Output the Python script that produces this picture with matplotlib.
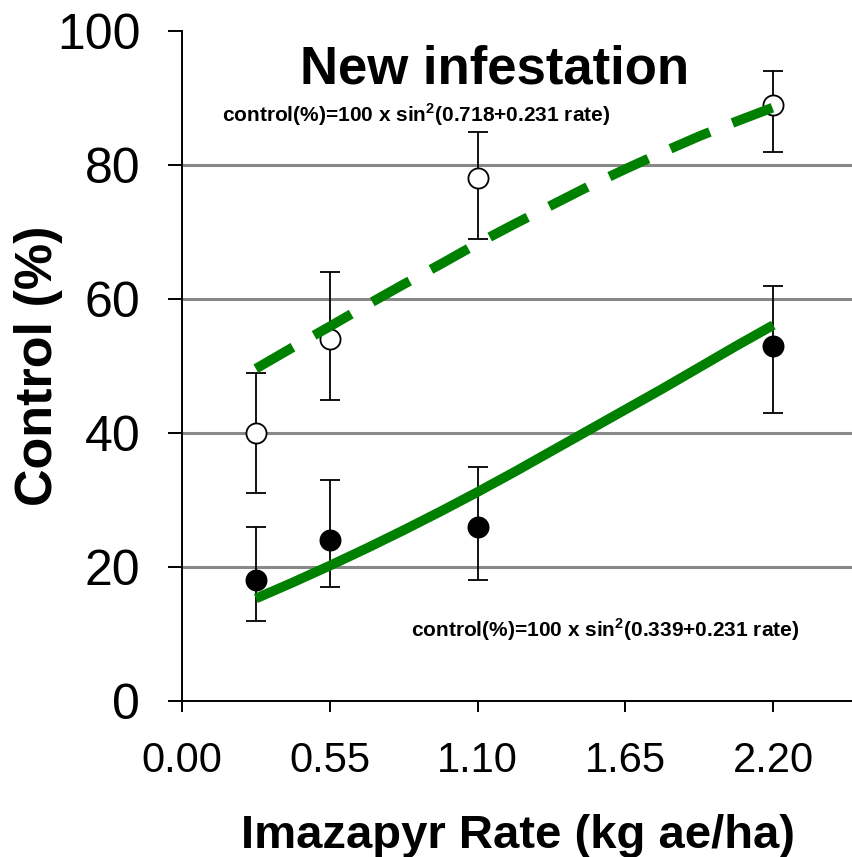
import matplotlib
matplotlib.use("Agg")
import matplotlib.pyplot as plt

plt.rcParams['font.family'] = ['Liberation Sans', 'DejaVu Sans']
plt.rcParams['mathtext.fontset'] = 'custom'
plt.rcParams['mathtext.rm'] = 'Liberation Sans:bold'
plt.rcParams['mathtext.bf'] = 'Liberation Sans:bold'

# observed means and error bars
rates = [0.275, 0.55, 1.10, 2.20]
new_ctrl = [40, 54, 78, 89]
new_lo = [9, 9, 9, 7]
new_hi = [9, 10, 7, 5]
old_ctrl = [18, 24, 26, 53]
old_lo = [6, 7, 8, 10]
old_hi = [8, 9, 9, 9]

# fitted curves
fit_rates = [0.275, 0.4125, 0.55, 0.6875, 0.825, 0.9625, 1.10, 1.2375,
             1.375, 1.5125, 1.65, 1.7875, 1.925, 2.0625, 2.20]
fit_upper = [49.6, 52.8, 55.9, 59.1, 62.2, 65.2, 68.3, 71.2,
             74.0, 76.8, 79.4, 81.9, 84.3, 86.5, 88.6]
fit_lower = [15.3, 17.7, 20.2, 22.8, 25.5, 28.3, 31.2, 34.2,
             37.3, 40.4, 43.5, 46.6, 49.8, 53.0, 56.1]

xticks = [0.0, 0.55, 1.10, 1.65, 2.20]
xlabels = ['0.00', '0.55', '1.10', '1.65', '2.20']
yticks = [0, 20, 40, 60, 80, 100]

green = '#008000'

fig = plt.figure(figsize=(8.52, 8.57), dpi=100)
ax = fig.add_axes([182/852, 156/857, 670/852, 670/857])
ax.set_xlim(0, 2.493)
ax.set_ylim(0, 100)

for g in [20, 40, 60, 80]:
    ax.axhline(g, color='#888888', lw=2.2, zorder=1)

ax.errorbar(rates, new_ctrl, yerr=[new_lo, new_hi], fmt='none', ecolor='black',
            elinewidth=1.3, capsize=7, capthick=1.3, zorder=3)
ax.errorbar(rates, old_ctrl, yerr=[old_lo, old_hi], fmt='none', ecolor='black',
            elinewidth=1.3, capsize=7, capthick=1.3, zorder=3)
ax.plot(rates, new_ctrl, 'o', ms=14.5, mfc='white', mec='black', mew=1.3, zorder=4)
ax.plot(rates, old_ctrl, 'o', ms=14.5, mfc='black', mec='black', mew=1.3, zorder=4)

ax.plot(fit_rates, fit_upper, color=green, lw=7, dashes=(4.4, 2.5),
        dash_capstyle='butt', zorder=5)
ax.plot(fit_rates, fit_lower, color=green, lw=7, solid_capstyle='butt', zorder=5)

ax.spines['top'].set_visible(False)
ax.spines['right'].set_visible(False)
ax.spines['left'].set_linewidth(1.4)
ax.spines['bottom'].set_linewidth(1.4)

ax.set_xticks(xticks)
ax.set_xticklabels(xlabels)
ax.set_yticks(yticks)
ax.tick_params(axis='x', direction='out', length=8, width=1.4, pad=21, labelsize=30)
ax.tick_params(axis='y', direction='out', length=10, width=1.4, pad=20, labelsize=36)

fig.text(39/852, 1 - 366/857, 'Control (%)', rotation=90, ha='center', va='center',
         fontsize=37.5, fontweight='bold')
fig.text(518/852, 1 - 848/857, 'Imazapyr Rate (kg ae/ha)', ha='center', va='baseline',
         fontsize=34, fontweight='bold')
fig.text(495/852, 1 - 83/857, 'New infestation', ha='center', va='baseline',
         fontsize=38, fontweight='bold')
fig.text(222/852, 1 - 122/857, 'control(%)=100 x sin$^{2}$(0.718+0.231 rate)',
         ha='left', va='baseline', fontsize=15, fontweight='bold')
fig.text(411/852, 1 - 637/857, 'control(%)=100 x sin$^{2}$(0.339+0.231 rate)',
         ha='left', va='baseline', fontsize=15, fontweight='bold')

fig.savefig('out.png', dpi=100)
